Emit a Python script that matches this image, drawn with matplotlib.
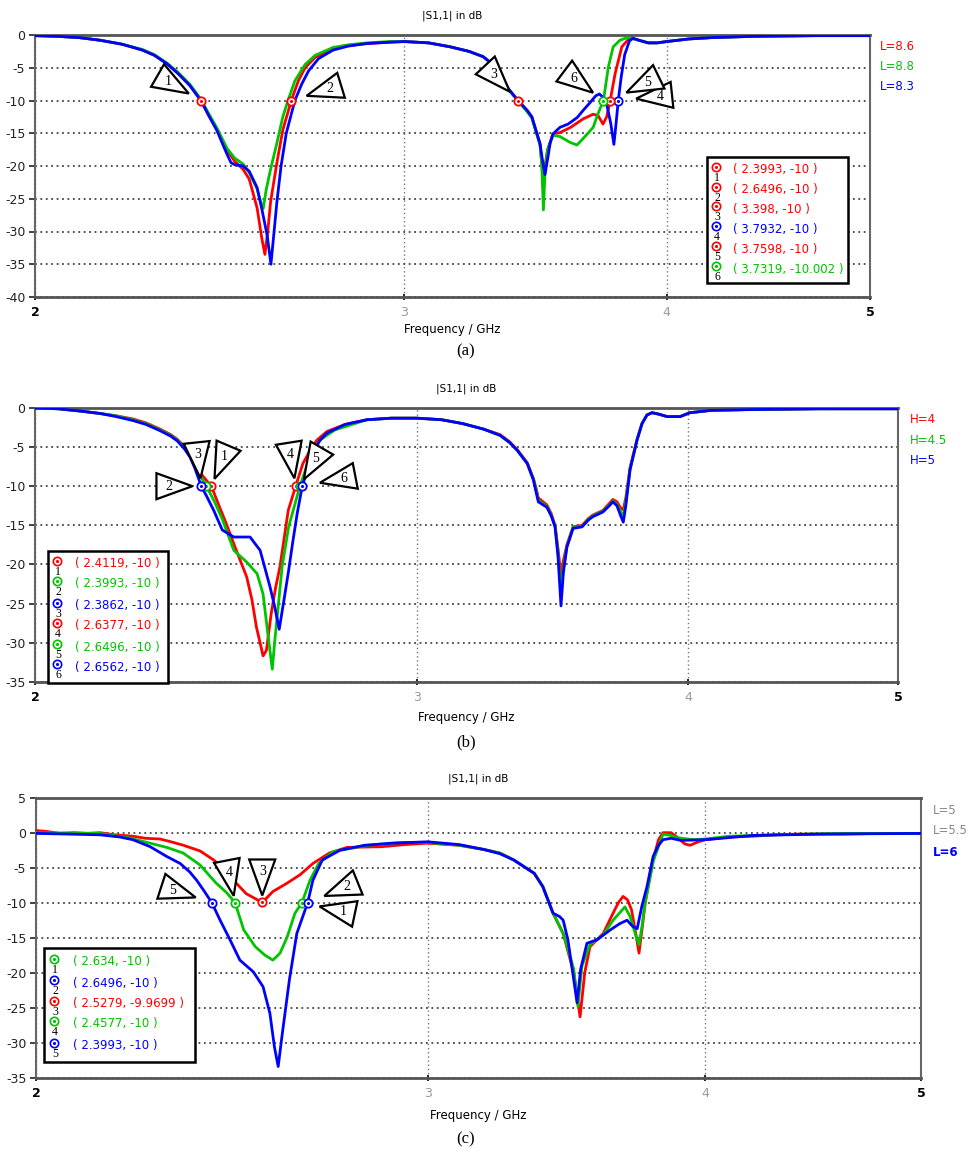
import numpy as np
import matplotlib
matplotlib.use('Agg')
import matplotlib.pyplot as plt
import matplotlib.ticker as ticker
from matplotlib import transforms
from matplotlib.patches import Polygon, Rectangle
from matplotlib.lines import Line2D

plt.rcParams['font.family'] = 'DejaVu Sans'
plt.rcParams['axes.unicode_minus'] = False

# ── data: (frequency GHz, |S11| dB) ─────────────────────────────────────────
A_RED = [(2.0, -0.1), (2.05, -0.2), (2.1, -0.4), (2.148, -0.8), (2.2, -1.4), (2.25, -2.3),
         (2.28, -3.1), (2.312, -4.4), (2.34, -5.8), (2.37, -7.6), (2.3993, -10.0), (2.42, -12.2),
         (2.442, -14.4), (2.469, -17.5), (2.49, -19.3), (2.513, -20.5), (2.53, -22.0), (2.552, -26.4),
         (2.565, -31.0), (2.574, -33.5), (2.582, -30.0), (2.59, -25.5), (2.608, -19.5), (2.625, -14.5),
         (2.6496, -10.0), (2.67, -7.0), (2.69, -5.0), (2.72, -3.4), (2.774, -2.1), (2.82, -1.6),
         (2.879, -1.3), (2.95, -1.1), (3.0, -1.0), (3.08, -1.2), (3.154, -1.8), (3.22, -2.5),
         (3.27, -3.3), (3.30, -4.3), (3.332, -5.9), (3.362, -8.2), (3.398, -10.0), (3.432, -11.5),
         (3.45, -12.5), (3.462, -14.1), (3.481, -16.6), (3.488, -19.5), (3.494, -23.9), (3.50, -20.0),
         (3.51, -17.5), (3.531, -15.1), (3.558, -14.9), (3.60, -14.1), (3.65, -12.8), (3.69, -12.1),
         (3.71, -12.3), (3.73, -13.6), (3.745, -12.5), (3.7598, -10.0), (3.78, -5.9), (3.808, -1.8),
         (3.84, -0.5), (3.86, -0.6), (3.88, -0.8), (3.92, -1.2), (3.96, -1.2), (4.0, -1.0),
         (4.1, -0.6), (4.2, -0.4), (4.4, -0.2), (4.7, -0.1), (5.0, -0.1)]
A_GREEN = [(2.0, -0.1), (2.05, -0.2), (2.1, -0.4), (2.148, -0.8), (2.2, -1.4), (2.25, -2.2),
           (2.28, -3.0), (2.312, -4.3), (2.34, -5.7), (2.37, -7.5), (2.3993, -9.8), (2.42, -12.0),
           (2.442, -14.2), (2.469, -17.3), (2.49, -18.8), (2.513, -19.7), (2.53, -21.0), (2.552, -23.5),
           (2.562, -25.5), (2.569, -26.5), (2.578, -23.5), (2.59, -20.5), (2.608, -16.5), (2.625, -12.5),
           (2.64, -10.0), (2.66, -7.0), (2.69, -4.5), (2.72, -3.1), (2.774, -1.9), (2.82, -1.5),
           (2.879, -1.2), (2.95, -1.0), (3.0, -1.0), (3.08, -1.2), (3.154, -1.8), (3.22, -2.5),
           (3.27, -3.3), (3.30, -4.3), (3.332, -6.0), (3.362, -8.3), (3.398, -10.1), (3.432, -11.7),
           (3.45, -12.7), (3.462, -14.3), (3.481, -16.8), (3.488, -20.0), (3.494, -26.7), (3.50, -21.0),
           (3.51, -17.5), (3.531, -15.3), (3.558, -15.5), (3.598, -16.4), (3.625, -16.8), (3.65, -15.8),
           (3.69, -14.1), (3.71, -12.0), (3.7319, -10.0), (3.752, -4.9), (3.772, -1.8), (3.80, -0.8),
           (3.83, -0.4), (3.86, -0.6), (3.88, -0.8), (3.92, -1.2), (3.96, -1.2), (4.0, -1.0),
           (4.1, -0.6), (4.2, -0.4), (4.4, -0.2), (4.7, -0.1), (5.0, -0.1)]
A_BLUE = [(2.0, -0.1), (2.05, -0.2), (2.1, -0.4), (2.148, -0.8), (2.2, -1.4), (2.25, -2.3),
          (2.28, -3.1), (2.312, -4.4), (2.34, -5.9), (2.37, -7.7), (2.3993, -10.0), (2.42, -12.3),
          (2.442, -14.6), (2.469, -18.2), (2.48, -19.5), (2.49, -19.8), (2.513, -20.0), (2.53, -20.8),
          (2.552, -23.3), (2.565, -26.5), (2.58, -30.5), (2.591, -35.0), (2.60, -30.0), (2.608, -25.5),
          (2.62, -20.0), (2.635, -15.0), (2.66, -10.0), (2.68, -7.5), (2.70, -5.5), (2.73, -3.6),
          (2.774, -2.3), (2.82, -1.7), (2.879, -1.3), (2.95, -1.1), (3.0, -1.0), (3.08, -1.2),
          (3.154, -1.8), (3.22, -2.5), (3.27, -3.3), (3.30, -4.3), (3.332, -5.9), (3.362, -8.2),
          (3.398, -10.0), (3.432, -11.5), (3.45, -12.5), (3.462, -14.1), (3.481, -16.6), (3.49, -19.0),
          (3.50, -21.3), (3.51, -19.0), (3.52, -16.5), (3.531, -15.1), (3.558, -14.1), (3.59, -13.6),
          (3.626, -12.6), (3.65, -11.5), (3.678, -10.3), (3.70, -9.3), (3.715, -9.0), (3.73, -9.5),
          (3.745, -10.5), (3.762, -13.5), (3.775, -16.7), (3.784, -13.5), (3.7932, -10.0),
          (3.805, -6.5), (3.82, -3.0), (3.84, -0.9), (3.855, -0.5), (3.88, -0.8), (3.92, -1.2),
          (3.96, -1.2), (4.0, -1.0), (4.1, -0.6), (4.2, -0.4), (4.4, -0.2), (4.7, -0.1), (5.0, -0.1)]

B_RED = [(2.0, 0.0), (2.05, -0.1), (2.1, -0.4), (2.143, -0.7), (2.18, -1.0), (2.219, -1.4),
         (2.25, -1.9), (2.284, -2.7), (2.31, -3.4), (2.326, -4.0), (2.345, -5.0), (2.358, -6.0),
         (2.37, -7.2), (2.39, -8.7), (2.4119, -10.0), (2.43, -12.3), (2.452, -15.0), (2.475, -18.0),
         (2.504, -21.6), (2.518, -24.5), (2.53, -28.0), (2.548, -31.7), (2.557, -31.0), (2.57, -26.3),
         (2.582, -23.0), (2.594, -20.3), (2.617, -13.1), (2.6377, -10.0), (2.658, -7.1), (2.68, -5.3),
         (2.698, -4.1), (2.727, -3.0), (2.78, -2.1), (2.845, -1.5), (2.92, -1.3), (3.0, -1.3),
         (3.08, -1.5), (3.15, -2.0), (3.22, -2.7), (3.277, -3.4), (3.31, -4.3), (3.337, -5.3),
         (3.373, -7.0), (3.395, -9.0), (3.405, -10.3), (3.413, -11.5), (3.444, -12.4), (3.46, -13.5),
         (3.474, -15.0), (3.485, -18.0), (3.496, -21.5), (3.505, -19.5), (3.518, -17.5), (3.541, -15.2),
         (3.575, -15.0), (3.60, -14.1), (3.616, -13.7), (3.655, -13.1), (3.68, -12.2), (3.694, -11.7),
         (3.71, -12.0), (3.725, -12.8), (3.735, -13.0), (3.745, -11.5), (3.762, -7.6), (3.79, -4.0),
         (3.81, -2.0), (3.83, -0.9), (3.851, -0.6), (3.88, -0.8), (3.913, -1.1), (3.967, -1.1),
         (4.009, -0.6), (4.1, -0.3), (4.273, -0.2), (4.6, -0.1), (5.0, -0.1)]
B_GREEN = [(2.0, 0.0), (2.05, -0.1), (2.1, -0.4), (2.143, -0.7), (2.18, -1.0), (2.219, -1.5),
           (2.25, -2.0), (2.284, -2.8), (2.31, -3.5), (2.326, -4.1), (2.345, -5.2), (2.358, -6.2),
           (2.37, -7.5), (2.3993, -10.0), (2.42, -12.0), (2.44, -14.2), (2.47, -18.2), (2.504, -19.7),
           (2.532, -21.2), (2.548, -23.8), (2.561, -28.9), (2.573, -33.4), (2.58, -29.7), (2.59, -25.0),
           (2.60, -20.3), (2.618, -15.2), (2.6496, -10.0), (2.67, -7.3), (2.687, -5.5), (2.71, -4.0),
           (2.75, -2.8), (2.845, -1.5), (2.92, -1.3), (3.0, -1.3), (3.08, -1.5), (3.15, -2.0),
           (3.22, -2.7), (3.277, -3.5), (3.31, -4.4), (3.337, -5.4), (3.373, -7.1), (3.395, -9.1),
           (3.405, -10.5), (3.413, -11.8), (3.444, -12.6), (3.46, -13.7), (3.474, -15.1), (3.485, -18.5),
           (3.496, -23.5), (3.505, -20.5), (3.518, -17.7), (3.541, -15.3), (3.575, -15.1), (3.60, -14.2),
           (3.616, -13.8), (3.655, -13.2), (3.68, -12.4), (3.694, -11.9), (3.71, -12.3), (3.725, -13.3),
           (3.735, -13.8), (3.745, -12.0), (3.762, -7.8), (3.79, -4.1), (3.81, -2.0), (3.83, -0.9),
           (3.851, -0.6), (3.88, -0.8), (3.913, -1.1), (3.967, -1.1), (4.009, -0.6), (4.1, -0.3),
           (4.273, -0.2), (4.6, -0.1), (5.0, -0.1)]
B_BLUE = [(2.0, 0.0), (2.05, -0.1), (2.1, -0.4), (2.143, -0.7), (2.18, -1.1), (2.219, -1.6),
          (2.25, -2.1), (2.284, -2.9), (2.31, -3.6), (2.326, -4.2), (2.345, -5.3), (2.358, -6.3),
          (2.37, -7.7), (2.3862, -10.0), (2.40, -11.3), (2.418, -13.1), (2.44, -15.6), (2.47, -16.5),
          (2.513, -16.5), (2.54, -18.2), (2.567, -22.9), (2.58, -25.5), (2.592, -28.3), (2.605, -24.6),
          (2.618, -20.8), (2.63, -17.0), (2.642, -13.5), (2.6562, -10.0), (2.67, -8.0), (2.687, -5.8),
          (2.705, -4.2), (2.727, -3.2), (2.78, -2.1), (2.845, -1.5), (2.92, -1.3), (3.0, -1.3),
          (3.08, -1.5), (3.15, -2.0), (3.22, -2.7), (3.277, -3.5), (3.31, -4.4), (3.337, -5.4),
          (3.373, -7.1), (3.395, -9.2), (3.405, -10.8), (3.413, -12.0), (3.444, -12.7), (3.46, -13.8),
          (3.474, -15.2), (3.485, -19.0), (3.496, -25.3), (3.505, -21.0), (3.518, -17.8), (3.541, -15.4),
          (3.575, -15.2), (3.60, -14.3), (3.616, -13.9), (3.655, -13.3), (3.68, -12.5), (3.694, -12.0),
          (3.71, -12.5), (3.725, -13.8), (3.735, -14.6), (3.745, -12.5), (3.762, -7.9), (3.79, -4.1),
          (3.81, -2.0), (3.83, -0.9), (3.851, -0.6), (3.88, -0.8), (3.913, -1.1), (3.967, -1.1),
          (4.009, -0.6), (4.1, -0.3), (4.273, -0.2), (4.6, -0.1), (5.0, -0.1)]

C_RED = [(2.0, 0.3), (2.02, 0.2), (2.05, -0.1), (2.08, 0.0), (2.11, -0.1), (2.137, 0.0),
         (2.17, -0.3), (2.211, -0.5), (2.24, -0.8), (2.274, -0.9), (2.30, -1.3), (2.33, -1.8),
         (2.37, -2.6), (2.404, -3.9), (2.43, -5.3), (2.454, -6.8), (2.486, -8.7), (2.5279, -9.97),
         (2.556, -8.4), (2.594, -7.2), (2.629, -6.0), (2.664, -4.4), (2.71, -2.9), (2.76, -2.1),
         (2.86, -2.0), (2.93, -1.7), (3.0, -1.5), (3.1, -1.8), (3.18, -2.4), (3.233, -2.9),
         (3.28, -3.9), (3.35, -5.8), (3.38, -7.7), (3.416, -11.5), (3.452, -14.4), (3.49, -20.0),
         (3.513, -26.3), (3.53, -20.0), (3.549, -16.3), (3.598, -14.4), (3.635, -11.5), (3.655, -10.0),
         (3.673, -9.1), (3.69, -9.6), (3.705, -11.0), (3.722, -14.5), (3.734, -17.2), (3.745, -14.0),
         (3.758, -10.0), (3.785, -4.4), (3.81, -1.0), (3.828, 0.0), (3.86, 0.0), (3.89, -0.8),
         (3.915, -1.6), (3.937, -1.8), (3.97, -1.3), (4.0, -1.0), (4.1, -0.6), (4.2, -0.5),
         (4.3, -0.3), (4.4, -0.2), (4.6, -0.2), (4.8, -0.1), (5.0, -0.1)]
C_GREEN = [(2.0, 0.0), (2.137, -0.1), (2.20, -0.7), (2.251, -1.5), (2.29, -2.1), (2.329, -2.9),
           (2.37, -4.6), (2.41, -7.2), (2.437, -8.6), (2.4577, -10.0), (2.48, -13.9), (2.51, -16.3),
           (2.535, -17.5), (2.556, -18.2), (2.575, -17.2), (2.594, -14.9), (2.615, -11.5), (2.634, -10.0),
           (2.656, -6.8), (2.68, -4.4), (2.72, -2.7), (2.82, -1.8), (2.92, -1.4), (3.0, -1.4),
           (3.1, -1.8), (3.18, -2.4), (3.233, -2.9), (3.28, -3.9), (3.35, -5.8), (3.38, -7.7),
           (3.416, -11.5), (3.452, -14.4), (3.49, -19.5), (3.505, -24.8), (3.52, -19.0), (3.549, -16.0),
           (3.598, -14.6), (3.635, -12.5), (3.68, -10.6), (3.70, -12.0), (3.72, -14.5), (3.734, -16.0),
           (3.745, -13.5), (3.758, -10.0), (3.79, -4.0), (3.828, -0.2), (3.86, -0.4), (3.88, -0.7),
           (3.95, -1.0), (4.0, -0.9), (4.1, -0.5), (4.3, -0.3), (4.6, -0.1), (5.0, -0.1)]
C_BLUE = [(2.0, -0.1), (2.07, -0.2), (2.137, -0.3), (2.18, -0.6), (2.211, -1.0), (2.251, -2.0),
          (2.29, -3.4), (2.322, -4.4), (2.345, -5.6), (2.362, -6.8), (2.38, -8.3), (2.3993, -10.0),
          (2.42, -12.5), (2.445, -15.3), (2.47, -18.2), (2.505, -19.9), (2.53, -22.0), (2.548, -25.8),
          (2.56, -30.6), (2.57, -33.4), (2.58, -29.1), (2.60, -21.0), (2.62, -14.4), (2.6496, -10.0),
          (2.664, -6.8), (2.69, -3.9), (2.74, -2.5), (2.81, -1.8), (2.89, -1.5), (3.0, -1.3),
          (3.1, -1.7), (3.18, -2.4), (3.233, -3.0), (3.28, -3.9), (3.35, -5.8), (3.38, -7.7),
          (3.416, -11.5), (3.44, -12.0), (3.452, -12.5), (3.469, -15.3), (3.49, -21.0), (3.502, -24.3),
          (3.515, -19.5), (3.538, -15.8), (3.575, -15.3), (3.624, -13.9), (3.66, -13.0), (3.688, -12.5),
          (3.71, -13.4), (3.727, -13.7), (3.745, -10.5), (3.765, -7.7), (3.789, -3.4), (3.81, -1.8),
          (3.828, -1.0), (3.86, -0.8), (3.9, -1.1), (4.0, -1.0), (4.2, -0.4), (4.5, -0.2), (5.0, -0.1)]

# markers: (number, freq, dB, series index 0=red 1=green 2=blue)
A_MARKERS = [(1, 2.3993, -10), (2, 2.6496, -10), (3, 3.398, -10),
             (4, 3.7932, -10), (5, 3.7598, -10), (6, 3.7319, -10.002)]
A_MARKER_SERIES = [0, 0, 0, 2, 0, 1]
B_MARKERS = [(1, 2.4119, -10), (2, 2.3993, -10), (3, 2.3862, -10),
             (4, 2.6377, -10), (5, 2.6496, -10), (6, 2.6562, -10)]
B_MARKER_SERIES = [0, 1, 2, 0, 1, 2]
C_MARKERS = [(1, 2.634, -10), (2, 2.6496, -10), (3, 2.5279, -9.9699),
             (4, 2.4577, -10), (5, 2.3993, -10)]
C_MARKER_SERIES = [1, 2, 0, 1, 2]

A_NAMES = ['L=8.6', 'L=8.8', 'L=8.3']
B_NAMES = ['H=4', 'H=4.5', 'H=5']
C_NAMES = ['L=5', 'L=5.5', 'L=6']
CAPTIONS = ['(a)', '(b)', '(c)']
TITLE = '|S1,1| in dB'
XLABEL = 'Frequency / GHz'
XTICKS = [2, 3, 4, 5]

# ── style ────────────────────────────────────────────────────────────────────
W, H = 973, 1152
COLORS = ['#ff0000', '#00c400', '#0000ff']
# callout triangles: angle (deg) and gap (px) from marker
A_CALLOUT = [(150, 14), (17, 16), (133, 12), (6, 18), (26, 18), (143, 13)]
B_CALLOUT = [(67, 8), (180, 14), (96, 8), (99, 8), (60, 8), (11, 18)]
C_CALLOUT = [(-12, 18), (22, 18), (90, 7), (101, 7), (162, 17)]


def px(x, y):
    return x / W, 1 - y / H


def style_axes(ax, ylim):
    ax.set_xscale('log')
    ax.set_xlim(2, 5)
    ax.set_ylim(*ylim)
    ax.set_xticks(XTICKS)
    ax.set_xticklabels([str(t) for t in XTICKS])
    ax.xaxis.set_minor_locator(ticker.NullLocator())
    ax.set_yticks(np.arange(ylim[0], ylim[1] + 1, 5))
    ax.yaxis.set_major_formatter(ticker.FormatStrFormatter('%d'))
    ax.grid(axis='y', ls=(0, (1, 2)), color='#444444', lw=1.3)
    ax.grid(axis='x', ls=(0, (1, 2)), color='#777777', lw=1.0)
    ax.tick_params(axis='y', length=4, width=1.2, pad=3, labelsize=9, colors='#222222')
    ax.tick_params(axis='x', length=5, width=1.2, pad=4, labelsize=9, direction='inout')
    for lbl, t in zip(ax.get_xticklabels(), XTICKS):
        if t in (2, 5):
            lbl.set_color('black')
            lbl.set_fontweight('bold')
        else:
            lbl.set_color('#999999')
    for side in ('top', 'bottom'):
        ax.spines[side].set_color('#555555')
        ax.spines[side].set_linewidth(2.0)
    for side in ('left', 'right'):
        ax.spines[side].set_color('#666666')
        ax.spines[side].set_linewidth(1.5)


def callout(fig, ax, f, db, num, ang, gap, length=36, half=13):
    a = np.radians(ang)
    u = np.array([np.cos(a), np.sin(a)])
    p = np.array([-u[1], u[0]])
    tip = u * gap
    base = u * (gap + length)
    tr = (transforms.Affine2D().scale(1 / fig.dpi) + fig.dpi_scale_trans
          + transforms.ScaledTranslation(f, db, ax.transData))
    ax.add_patch(Polygon([tip, base + p * half, base - p * half], closed=True,
                         fc='white', ec='black', lw=1.6, transform=tr,
                         clip_on=False, zorder=6))
    c = (tip + 2 * base) / 3
    ax.text(c[0], c[1], str(num), transform=tr, ha='center', va='center',
            fontsize=10, family='Liberation Serif', zorder=7)


def draw_panel(fig, rect, ylim, curves, markers, marker_series, callouts,
               names, name_xy, legend_box, legend_rows, marker_x, text_x,
               title_y, xlabel_y, caption, caption_y):
    ax = fig.add_axes(rect)
    style_axes(ax, ylim)
    for data, color in zip(curves, COLORS):
        f, db = zip(*data)
        ax.plot(f, db, color=color, lw=2.0, zorder=3, solid_joinstyle='round')
    for (num, f, db), s, (ang, gap) in zip(markers, marker_series, callouts):
        ax.plot(f, db, 'o', ms=6, mfc='white', mec=COLORS[s], mew=1.3, zorder=5)
        ax.plot(f, db, '.', ms=2.5, color=COLORS[s], zorder=5)
        callout(fig, ax, f, db, num, ang, gap)

    x0 = rect[0] * W
    x1 = (rect[0] + rect[2]) * W
    fig.text(*px((x0 + x1) / 2, title_y), TITLE, ha='center', va='center', fontsize=7.5)
    fig.text(*px((x0 + x1) / 2, xlabel_y), XLABEL, ha='center', va='center', fontsize=8.5)
    fig.text(*px(466, caption_y), caption, ha='center', va='center', fontsize=12,
             family='Liberation Serif')

    for (x, y, color, weight), name in zip(name_xy, names):
        fig.text(*px(x, y), name, color=color, fontsize=8.5, va='center', fontweight=weight)

    bx0, by0, bx1, by1 = legend_box
    fig.add_artist(Rectangle(px(bx0, by1), (bx1 - bx0) / W, (by1 - by0) / H,
                             transform=fig.transFigure, fc='white', ec='black',
                             lw=1.8, zorder=8))
    for (num, f, db), s, ry in zip(markers, marker_series, legend_rows):
        c = COLORS[s]
        mx, my = px(marker_x, ry - 3)
        fig.add_artist(Line2D([mx], [my], marker='o', ms=6, mfc='white', mec=c, mew=1.2,
                              transform=fig.transFigure, zorder=9))
        fig.add_artist(Line2D([mx], [my], marker='.', ms=2.5, color=c,
                              transform=fig.transFigure, zorder=9))
        fig.text(*px(marker_x + 1, ry + 8), str(num), ha='center', va='center',
                 fontsize=8.5, family='Liberation Serif', zorder=9)
        fig.text(*px(text_x, ry), f'( {f:g}, {db:g} )', color=c, fontsize=8.5,
                 va='center', zorder=9)
    return ax


fig = plt.figure(figsize=(W / 100, H / 100), dpi=100)

draw_panel(fig, [35 / W, 1 - 297 / H, 835 / W, 262 / H], (-40, 0),
           [A_RED, A_GREEN, A_BLUE], A_MARKERS, A_MARKER_SERIES, A_CALLOUT,
           A_NAMES, [(880, 47, COLORS[0], 'normal'), (880, 66, COLORS[1], 'normal'),
                     (880, 86, COLORS[2], 'normal')],
           (707, 157, 848, 283), [170, 190, 209, 229, 249, 269], 716, 733,
           16, 330, CAPTIONS[0], 351)

draw_panel(fig, [35 / W, 1 - 681.7 / H, 863 / W, 273.7 / H], (-35, 0),
           [B_RED, B_GREEN, B_BLUE], B_MARKERS, B_MARKER_SERIES, B_CALLOUT,
           B_NAMES, [(910, 420, COLORS[0], 'normal'), (910, 440, COLORS[1], 'normal'),
                     (910, 461, COLORS[2], 'normal')],
           (48, 551, 168, 683), [564, 584, 606, 626, 647, 667], 57, 75,
           389, 718, CAPTIONS[1], 742)

draw_panel(fig, [36 / W, 1 - 1077.7 / H, 885 / W, 280 / H], (-35, 5),
           [C_RED, C_GREEN, C_BLUE], C_MARKERS, C_MARKER_SERIES, C_CALLOUT,
           C_NAMES, [(933, 811, '#888888', 'normal'), (933, 831, '#888888', 'normal'),
                     (933, 852, COLORS[2], 'bold')],
           (44, 948, 195, 1062), [962, 983, 1004, 1024, 1046], 54, 73,
           779, 1115, CAPTIONS[2], 1139)

fig.savefig('out.png', dpi=100)
